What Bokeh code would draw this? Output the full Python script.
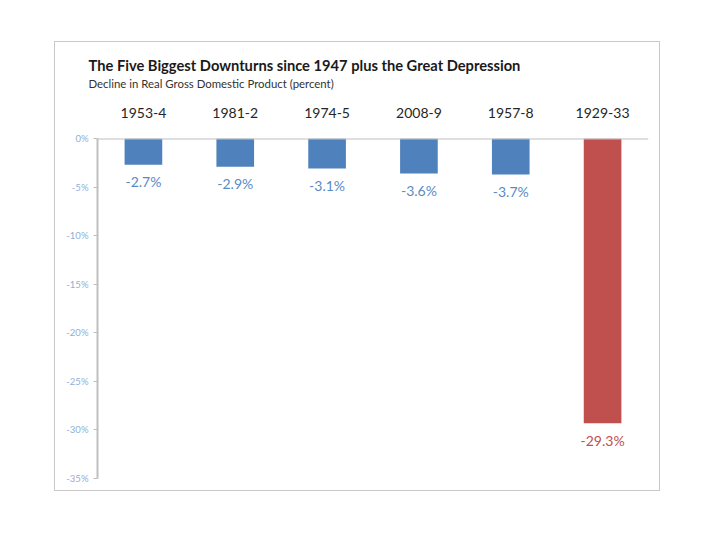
from bokeh.plotting import figure
from bokeh.models import ColumnDataSource, FactorRange, Range1d, FixedTicker, PrintfTickFormatter, Span, Title, CategoricalAxis
from bokeh.core.properties import value
from bokeh.embed import file_html
from bokeh.resources import INLINE

categories = ["1953-4", "1981-2", "1974-5", "2008-9", "1957-8", "1929-33"]
declines = [-2.7, -2.9, -3.1, -3.6, -3.7, -29.3]
y_ticks = [0, -5, -10, -15, -20, -25, -30, -35]

BLUE = "#4F81BD"
RED = "#C0504D"
FONT = "Lato"

colors = [BLUE] * 5 + [RED]
text_colors = ["#5A8AC6"] * 5 + ["#C0504D"]
labels = [f"{v:.1f}%" for v in declines]

src = ColumnDataSource(dict(cat=categories, val=declines, color=colors,
                            tcolor=text_colors, label=labels))

p = figure(width=604, height=448, output_backend="svg", toolbar_location=None,
           x_range=FactorRange(*categories, range_padding=0),
           y_range=Range1d(-35, 0), x_axis_location=None,
           min_border_left=42, min_border_right=11, min_border_top=96, min_border_bottom=12)
p.margin = (42, 0, 0, 55)
p.styles = {"outline": "1.5px solid #C9C9C9"}
p.outline_line_color = None
p.xgrid.visible = False
p.ygrid.visible = False
p.background_fill_color = "white"
p.border_fill_color = "white"

p.vbar(x="cat", top=0, bottom="val", width=0.41, fill_color="color", line_color=None, source=src)

p.add_layout(Span(location=0, dimension="width", line_color="#BFBFBF", line_width=2))

p.text(x="cat", y="val", text="label", text_color="tcolor", y_offset=17,
       text_align="center", text_baseline="middle", text_font=value(FONT),
       text_font_size="14px", source=src)

# y axis
ya = p.yaxis[0]
ya.ticker = FixedTicker(ticks=y_ticks)
ya.formatter = PrintfTickFormatter(format="%d%%")
ya.axis_line_color = "#BFBFBF"
ya.axis_line_width = 2
ya.major_tick_line_color = "#BFBFBF"
ya.major_tick_out = 4
ya.major_tick_in = 0
ya.minor_tick_line_color = None
ya.major_label_text_color = "#8FB0D6"
ya.major_label_text_font = FONT
ya.major_label_text_font_size = "9.5px"
ya.major_label_standoff = 5

# category axis above
xa = CategoricalAxis()
xa.axis_line_color = None
xa.major_tick_line_color = None
xa.minor_tick_line_color = None
xa.major_label_text_font = FONT
xa.major_label_text_font_size = "14px"
xa.major_label_text_color = "#262626"
xa.major_label_standoff = 15
p.add_layout(xa, "above")

p.add_layout(Title(text="Decline in Real Gross Domestic Product (percent)", align="left",
                   offset=-9, standoff=29, text_font=FONT, text_font_style="normal",
                   text_font_size="11.4px", text_color="#333333"), "above")

p.title.text = "The Five Biggest Downturns since 1947 plus the Great Depression"
p.title.align = "left"
p.title.offset = -9
p.title.standoff = -26
p.title.text_font = FONT
p.title.text_font_style = "bold"
p.title.text_font_size = "14.7px"
p.title.text_color = "#1A1A1A"

open("out.html", "w").write(file_html(p, INLINE))
